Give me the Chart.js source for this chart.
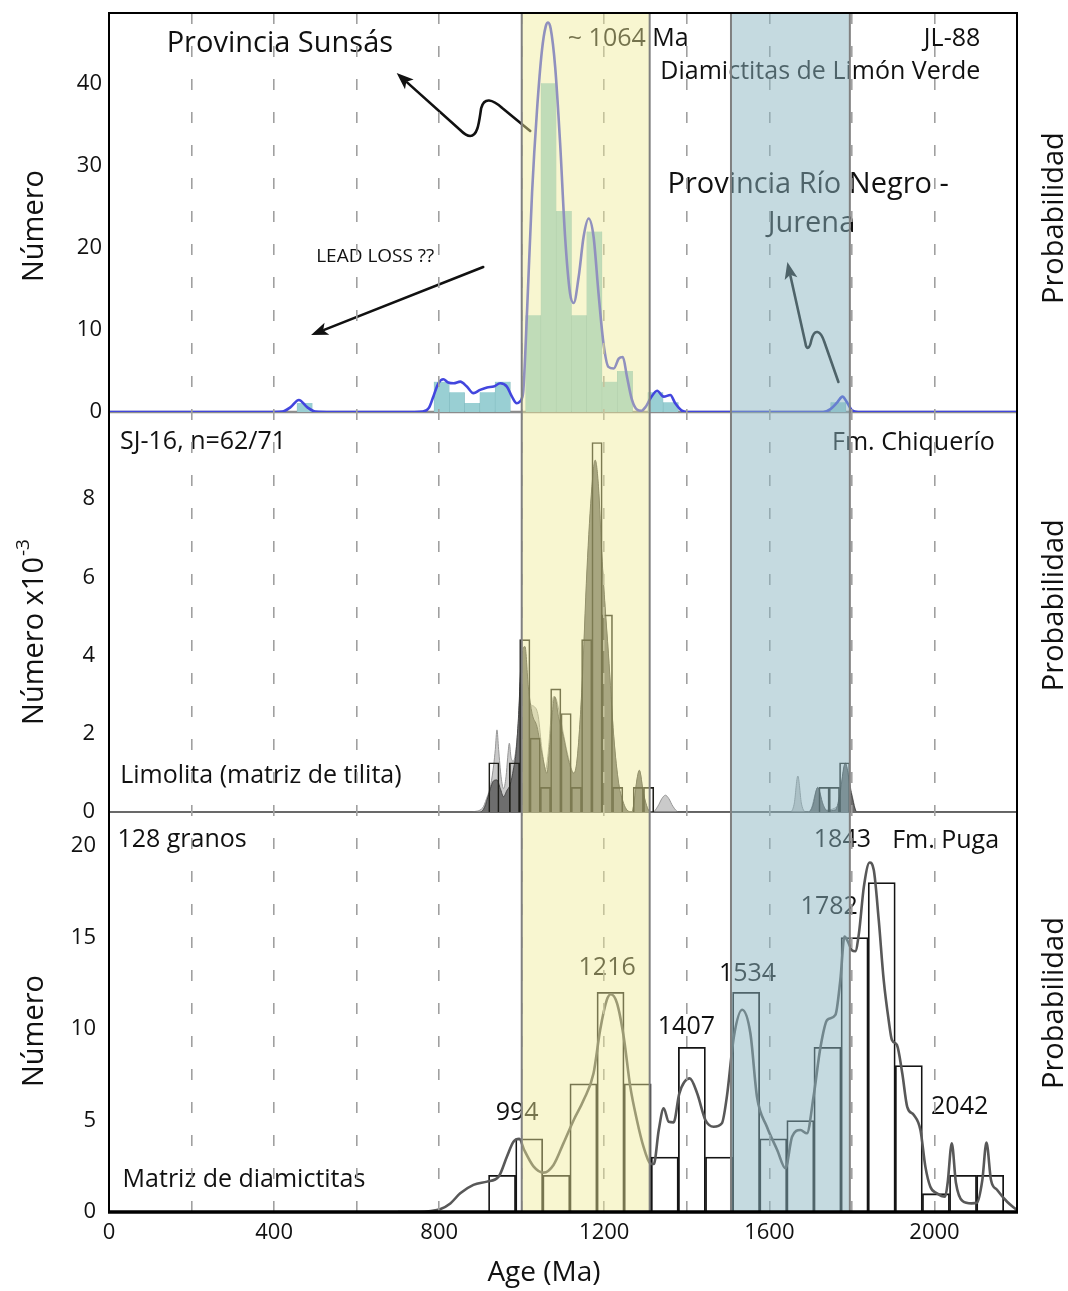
<!DOCTYPE html>
<html>
<head>
<meta charset="utf-8">
<script src="https://cdn.jsdelivr.net/npm/chart.js@4/dist/chart.umd.min.js"></script>
<style>
  html, body { margin: 0; padding: 0; background: #ffffff; }
  canvas { display: block; }
</style>
</head>
<body>
<canvas id="c" width="1068" height="1291"></canvas>
<script>
// ---------------- axis ticks ----------------
const ageGridTicks = [0, 200, 400, 600, 800, 1000, 1200, 1400, 1600, 1800, 2000];
const ageTickLabels = [0, 400, 800, 1200, 1600, 2000];
const topTicks = [0, 10, 20, 30, 40];
const midTicks = [0, 2, 4, 6, 8];
const botTicks = [0, 5, 10, 15, 20];

// shaded age ranges (Ma)
const bandStart = [1000, 1507];
const bandEnd   = [1310, 1795];

// ---------------- JL-88, Diamictitas de Limón Verde ----------------
const jlBinAge   = [474, 806, 843, 880, 917, 954, 991, 1028, 1065, 1102, 1139, 1176, 1213, 1250, 1287, 1324, 1361, 1767];
const jlBinCount = [1.1, 3.7, 2.4, 1.1, 2.4, 3.7, 0, 11.8, 40.1, 24.5, 11.8, 22.0, 3.7, 5.0, 0, 2.4, 1.2, 1.2];

const jlPdfAge = [0, 380, 420, 440, 460, 480, 500, 540, 740, 760, 775, 786, 798, 810, 822, 835, 851, 867, 883, 899,
  916, 932, 948, 964, 976, 988, 996, 1000, 1004, 1013, 1025, 1037, 1049, 1058, 1064, 1070, 1081, 1093, 1105, 1117,
  1126, 1138, 1150, 1162, 1174, 1186, 1198, 1210, 1223, 1235, 1245, 1255, 1267, 1279, 1290, 1300, 1312, 1328, 1344,
  1360, 1372, 1388, 1400, 1420, 1730, 1748, 1765, 1777, 1788, 1800, 1815, 2200];
const jlPdfVal = [0, 0, 0.05, 0.6, 1.46, 0.6, 0.05, 0, 0, 0.05, 0.5, 1.9, 3.5, 4.0, 3.6, 3.5, 3.7, 3.1, 2.3, 2.7,
  3.0, 3.1, 3.5, 3.1, 1.9, 1.06, 1.3, 1.6, 2.7, 12.4, 26.7, 36.8, 44.1, 47.0, 47.5, 46.8, 42.1, 32.8, 21.4, 14.5,
  13.3, 16.5, 21.4, 23.6, 21.4, 14.5, 8.4, 5.5, 5.3, 6.5, 6.7, 4.3, 1.5, 0.3, 0.15, 0.6, 1.67, 2.6, 1.87,
  2.07, 1.06, 0.16, 0, 0, 0, 0.35, 1.2, 1.87, 1.2, 0.2, 0, 0];

// ---------------- SJ-16, Fm. Chiquerío ----------------
const sjBinAge   = [932.5, 957.5, 982.5, 1007.5, 1032.5, 1057.5, 1082.5, 1107.5, 1132.5, 1157.5, 1182.5, 1207.5,
  1232.5, 1257.5, 1282.5, 1307.5, 1732.5, 1757.5, 1782.5];
const sjBinCount = [1.26, 0, 1.26, 4.41, 1.89, 0.63, 3.15, 2.52, 0.63, 4.41, 9.45, 5.04,
  0.63, 0, 0.63, 0.63, 0.63, 0.63, 1.26];

const sjDarkAge = [880, 899, 910, 920, 932, 940, 948, 956, 964, 972, 980, 986, 992, 1000, 1008, 1016, 1025, 1037,
  1049, 1061, 1069, 1080, 1089, 1101, 1113, 1126, 1134, 1146, 1158, 1170, 1178, 1186, 1194, 1202, 1210, 1223, 1235,
  1247, 1255, 1267, 1273, 1279, 1285, 1295, 1307, 1315, 1695, 1705, 1717, 1730, 1740, 1760, 1770, 1784, 1798, 1812, 2200];
const sjDarkVal = [0, 0, 0.12, 0.45, 0.8, 0.82, 0.6, 0.39, 0.55, 0.7, 1.1, 1.5, 2.4, 4.06, 4.23, 3.2, 2.52, 2.18,
  1.5, 0.99, 1.84, 2.95, 2.44, 1.93, 1.33, 0.99, 1.33, 3.2, 6.19, 8.32, 9.0, 8.32, 6.6, 5.25, 4.06, 1.93, 0.73,
  0.22, 0.05, 0, 0.3, 0.82, 1.07, 0.48, 0.05, 0, 0, 0.15, 0.63, 0.2, 0.03, 0.05, 0.4, 1.25, 0.5, 0, 0];

const sjLightAge = [880, 905, 915, 925, 932, 936, 940, 944, 950, 956, 962, 966, 970, 974, 980, 986, 992, 1000, 1008,
  1016, 1022, 1030, 1040, 1049, 1058, 1064, 1070, 1077, 1083, 1090, 1101, 1113, 1126, 1134, 1146, 1158, 1170, 1178,
  1186, 1194, 1202, 1210, 1223, 1235, 1247, 1255, 1267, 1273, 1279, 1285, 1295, 1307, 1318, 1330, 1340, 1348, 1356,
  1366, 1380, 1650, 1660, 1669, 1678, 1690, 1700, 1717, 1732, 1766, 1784, 1800, 1812, 2200];
const sjLightVal = [0, 0.1, 0.35, 0.7, 1.2, 1.6, 2.1, 1.6, 0.9, 0.6, 0.9, 1.4, 1.76, 1.4, 1.3, 1.6, 2.3, 3.9, 4.0,
  3.0, 2.75, 2.7, 2.45, 1.6, 1.1, 1.5, 2.3, 2.95, 2.9, 2.6, 2.0, 1.4, 1.0, 1.3, 3.1, 6.0, 8.2, 8.9,
  8.2, 6.5, 5.2, 4.0, 1.9, 0.7, 0.2, 0.05, 0, 0.3, 0.8, 1.05, 0.45, 0.05, 0, 0.15, 0.35, 0.43, 0.35,
  0.15, 0, 0, 0.2, 0.92, 0.2, 0, 0.05, 0.6, 0.05, 0.15, 1.2, 0.45, 0, 0];

// ---------------- Fm. Puga, matriz de diamictitas ----------------
const pugaBinAge   = [952.4, 1018.1, 1083.8, 1149.5, 1215.2, 1280.9, 1346.6, 1412.3, 1478.0, 1543.7, 1609.4,
  1675.1, 1740.8, 1806.5, 1872.2, 1937.9, 2003.6, 2069.3, 2135.0];
const pugaBinCount = [2, 4, 2, 7, 12, 7, 3, 9, 3, 12, 4, 5, 9, 15, 18, 8, 1, 2, 2];

const pugaPdfAge = [700, 750, 780, 802, 827, 851, 883, 916, 944, 964, 980, 994, 1006, 1029, 1053, 1077, 1101, 1126,
  1150, 1174, 1190, 1206, 1216, 1231, 1247, 1263, 1279, 1295, 1311, 1320, 1332, 1344, 1356, 1368, 1382, 1407, 1425,
  1445, 1465, 1485, 1497, 1514, 1534, 1554, 1570, 1594, 1619, 1639, 1655, 1675, 1691, 1707, 1724, 1740, 1760, 1772,
  1782, 1792, 1800, 1808, 1817, 1829, 1843, 1853, 1865, 1877, 1889, 1897, 1909, 1922, 1934, 1950, 1966, 1978, 1990,
  2006, 2026, 2032, 2042, 2052, 2068, 2090, 2103, 2116, 2126, 2137, 2152, 2176, 2200];
const pugaPdfVal = [0, 0, 0.05, 0.15, 0.47, 1.02, 1.48, 1.66, 1.93, 3.02, 3.84, 4.0, 3.39, 2.48, 2.15, 2.57, 3.75, 5.03,
  6.12, 7.58, 9.95, 11.58, 11.9, 11.4, 9.58, 6.85, 5.03, 3.57, 2.66, 2.62, 4.48, 5.67, 4.93, 4.9, 6.49, 7.3, 6.49,
  5.03, 4.66, 4.85, 6.3, 9.58, 11.05, 9.77, 6.3, 4.66, 3.39, 2.39, 4.11, 4.48, 4.3, 6.3, 9.03, 10.49, 10.77, 12.68,
  15.05, 14.7, 14.3, 14.25, 15.23, 17.78, 19.1, 18.69, 15.96, 12.68, 10.49, 9.4, 9.13, 7.58, 5.75, 5.3, 4.48, 2.48, 1.38,
  1.02, 0.84, 1.6, 3.75, 1.6, 0.6, 0.47, 0.5, 1.75, 3.79, 1.75, 1.2, 0.56, 0.1];

// ---------------- drawing ----------------
const FONT = "'Open Sans', 'DejaVu Sans', sans-serif";
const INK = '#111111';
Chart.defaults.font.family = FONT;

const pts = (xs, ys) => xs.map((x, i) => ({ x: x, y: ys[i] }));

const notes = [
  { panel: 'yTop', text: 'Provincia Sunsás', age: 414, val: 44.9, size: 29 },
  { panel: 'yTop', text: '~ 1064 Ma', age: 1258, val: 45.5, size: 25 },
  { panel: 'yTop', text: 'JL-88', age: 2111, val: 45.5, size: 25, align: 'right' },
  { panel: 'yTop', text: 'Diamictitas de Limón Verde', age: 2111, val: 41.5, size: 25, align: 'right' },
  { panel: 'yTop', text: 'Provincia Río Negro -', age: 1694, val: 27.7, size: 29 },
  { panel: 'yTop', text: 'Jurena', age: 1702, val: 22.9, size: 29 },
  { panel: 'yTop', text: 'LEAD LOSS ??', age: 645, val: 18.9, size: 19 },
  { panel: 'yMid', text: 'SJ-16, n=62/71', age: 228, val: 9.46, size: 25 },
  { panel: 'yMid', text: 'Fm. Chiquerío', age: 1949, val: 9.44, size: 25 },
  { panel: 'yMid', text: 'Limolita (matriz de tilita)', age: 368, val: 0.92, size: 25 },
  { panel: 'yBot', text: '128 granos', age: 177, val: 20.33, size: 25 },
  { panel: 'yBot', text: '1843', age: 1777, val: 20.33, size: 25 },
  { panel: 'yBot', text: 'Fm. Puga', age: 2027, val: 20.27, size: 25 },
  { panel: 'yBot', text: '1782', age: 1745, val: 16.67, size: 25 },
  { panel: 'yBot', text: '1534', age: 1547, val: 13.0, size: 25 },
  { panel: 'yBot', text: '1216', age: 1207, val: 13.33, size: 25 },
  { panel: 'yBot', text: '1407', age: 1399, val: 10.1, size: 25 },
  { panel: 'yBot', text: '994', age: 989, val: 5.41, size: 25 },
  { panel: 'yBot', text: '2042', age: 2061, val: 5.74, size: 25 },
  { panel: 'yBot', text: 'Matriz de diamictitas', age: 327, val: 1.75, size: 25 }
];

// annotation arrows in (age, value) of the upper panel; 2 numbers = line, 6 numbers = bezier
const arrows = [
  { panel: 'yTop', segs: [[1020.6, 34.27], [952.7, 37.07], [928.5, 38.17, 909.1, 38.41, 901.8, 37.07],
      [897, 35.61, 894.5, 33.66, 875.2, 33.66], [865.5, 33.66, 858.2, 34.02, 850.9, 34.39]], tip: [697, 41.34] },
  { panel: 'yTop', segs: [[906.7, 17.68]], tip: [489.7, 9.39] },
  { panel: 'yTop', segs: [[1767.3, 3.66], [1733.3, 8.54], [1723.6, 10.0, 1709.1, 10.24, 1701.8, 8.78],
      [1697, 7.56, 1689.7, 7.56, 1687.3, 8.41]], tip: [1643.6, 18.29] }
];

// side titles: fraction = position along each panel from its top
const sideTitles = [
  { panel: 'yTop', left: 'Número', lf: 0.534, right: 'Probabilidad', rf: 0.514 },
  { panel: 'yMid', left: 'Número x10', sup: '-3', lf: 0.55, right: 'Probabilidad', rf: 0.483 },
  { panel: 'yBot', left: 'Número', lf: 0.5475, right: 'Probabilidad', rf: 0.4775 }
];

function vText(ctx, cx, cy, main, sup) {
  ctx.save();
  ctx.translate(cx, cy);
  ctx.rotate(-Math.PI / 2);
  ctx.fillStyle = INK;
  ctx.textBaseline = 'middle';
  ctx.textAlign = 'left';
  ctx.font = '29px ' + FONT;
  const w1 = ctx.measureText(main).width;
  let w2 = 0;
  if (sup) { ctx.font = '19px ' + FONT; w2 = ctx.measureText(sup).width + 1; }
  const start = -(w1 + w2) / 2;
  ctx.font = '29px ' + FONT;
  ctx.fillText(main, start, 0);
  if (sup) { ctx.font = '19px ' + FONT; ctx.fillText(sup, start + w1 + 1, -11); }
  ctx.restore();
}

const panelPlugin = {
  id: 'panelDecor',
  beforeDatasetsDraw(chart) {
    const { ctx, chartArea: a, scales } = chart;
    ctx.save();
    ctx.lineWidth = 2.5;
    ctx.strokeStyle = 'rgb(140,140,140)';
    ctx.beginPath();
    ctx.moveTo(a.left, scales.yTop.bottom); ctx.lineTo(a.right, scales.yTop.bottom);
    ctx.stroke();
    ctx.lineWidth = 2;
    ctx.strokeStyle = 'rgb(105,105,105)';
    ctx.beginPath();
    ctx.moveTo(a.left, scales.yMid.bottom); ctx.lineTo(a.right, scales.yMid.bottom);
    ctx.stroke();
    ctx.restore();
  },
  afterDatasetsDraw(chart) {
    const { ctx, scales } = chart;
    const xs = scales.x;
    ctx.save();
    ctx.fillStyle = INK;
    ctx.textBaseline = 'middle';
    for (const n of notes) {
      ctx.font = n.size + 'px ' + FONT;
      ctx.textAlign = n.align || 'center';
      ctx.fillText(n.text, xs.getPixelForValue(n.age), scales[n.panel].getPixelForValue(n.val));
    }
    // arrows
    ctx.strokeStyle = INK;
    ctx.lineWidth = 2.6;
    ctx.lineJoin = 'round';
    ctx.lineCap = 'round';
    for (const ar of arrows) {
      const ys = scales[ar.panel];
      const P = (a, v) => [xs.getPixelForValue(a), ys.getPixelForValue(v)];
      ctx.beginPath();
      let last = null;
      ar.segs.forEach((s, i) => {
        if (i === 0) { last = P(s[0], s[1]); ctx.moveTo(last[0], last[1]); }
        else if (s.length === 2) { last = P(s[0], s[1]); ctx.lineTo(last[0], last[1]); }
        else {
          const c1 = P(s[0], s[1]), c2 = P(s[2], s[3]); last = P(s[4], s[5]);
          ctx.bezierCurveTo(c1[0], c1[1], c2[0], c2[1], last[0], last[1]);
        }
      });
      const t = P(ar.tip[0], ar.tip[1]);
      const dx = t[0] - last[0], dy = t[1] - last[1];
      const len = Math.hypot(dx, dy);
      const ux = dx / len, uy = dy / len;
      const L = 17, W = 6.5;
      const bx = t[0] - ux * L, by = t[1] - uy * L;
      ctx.lineTo(bx + ux * 3, by + uy * 3);
      ctx.stroke();
      ctx.beginPath();
      ctx.moveTo(t[0], t[1]);
      ctx.lineTo(bx - uy * W, by + ux * W);
      ctx.lineTo(bx + ux * 4, by + uy * 4);
      ctx.lineTo(bx + uy * W, by - ux * W);
      ctx.closePath();
      ctx.fillStyle = INK;
      ctx.fill();
    }
    ctx.restore();
  },
  afterDraw(chart) {
    const { ctx, chartArea: a, scales } = chart;
    const xs = scales.x;
    ctx.save();
    ctx.beginPath();
    ctx.rect(a.left, a.top, a.right - a.left, a.bottom - a.top);
    ctx.clip();
    const bandFill = ['rgba(240,236,150,0.45)', 'rgba(140,182,194,0.5)'];
    bandStart.forEach((s, i) => {
      const x1 = xs.getPixelForValue(s), x2 = xs.getPixelForValue(bandEnd[i]);
      ctx.fillStyle = bandFill[i];
      ctx.fillRect(x1, a.top, x2 - x1, a.bottom - a.top);
    });
    ctx.strokeStyle = 'rgb(128,128,128)';
    ctx.lineWidth = 2;
    bandStart.forEach((s, i) => {
      [s, bandEnd[i]].forEach(v => {
        const px = xs.getPixelForValue(v);
        ctx.beginPath(); ctx.moveTo(px, a.top); ctx.lineTo(px, a.bottom); ctx.stroke();
      });
    });
    ctx.restore();

    // frame
    ctx.save();
    ctx.strokeStyle = '#000';
    ctx.lineWidth = 2;
    ctx.strokeRect(a.left, a.top, a.right - a.left, a.bottom - a.top);
    ctx.lineWidth = 3.5;
    ctx.beginPath(); ctx.moveTo(a.left - 1, a.bottom); ctx.lineTo(a.right + 1, a.bottom); ctx.stroke();
    ctx.restore();

    // axis titles
    for (const t of sideTitles) {
      const s = scales[t.panel];
      vText(ctx, 35, s.top + (s.bottom - s.top) * t.lf, t.left, t.sup);
      vText(ctx, 1055, s.top + (s.bottom - s.top) * t.rf, t.right);
    }
    ctx.save();
    ctx.fillStyle = INK;
    ctx.font = '28px ' + FONT;
    ctx.textAlign = 'center';
    ctx.textBaseline = 'middle';
    ctx.fillText('Age (Ma)', 544, 1273);
    ctx.restore();
  }
};

const setAgeTicks = s => { s.ticks = ageGridTicks.map(v => ({ value: v })); };
const tickFont = { family: FONT, size: 22 };

const datasets = [
  // upper panel
  { type: 'bar', label: 'JL-88 histograma', data: pts(jlBinAge, jlBinCount), xAxisID: 'xTop', yAxisID: 'yTop',
    backgroundColor: 'rgb(153,207,211)', borderColor: 'rgba(118,178,184,0.9)',
    borderWidth: { left: 0.6, right: 0.6, top: 0, bottom: 0 },
    barPercentage: 1, categoryPercentage: 1, grouped: false, order: 6 },
  { type: 'line', label: 'JL-88 probabilidad', data: pts(jlPdfAge, jlPdfVal), xAxisID: 'xTop', yAxisID: 'yTop',
    borderColor: 'rgb(66,70,222)', borderWidth: 2.6, pointRadius: 0, cubicInterpolationMode: 'monotone',
    fill: false, order: 1 },
  // middle panel
  { type: 'line', label: 'SJ-16 curva clara', data: pts(sjLightAge, sjLightVal), xAxisID: 'xMid', yAxisID: 'yMid',
    borderColor: 'rgb(150,150,150)', borderWidth: 1, backgroundColor: 'rgb(202,202,202)', pointRadius: 0,
    cubicInterpolationMode: 'monotone', fill: 'origin', order: 5 },
  { type: 'line', label: 'SJ-16 curva oscura', data: pts(sjDarkAge, sjDarkVal), xAxisID: 'xMid', yAxisID: 'yMid',
    borderColor: 'rgb(72,72,72)', borderWidth: 1, backgroundColor: 'rgb(110,110,110)', pointRadius: 0,
    cubicInterpolationMode: 'monotone', fill: 'origin', order: 4 },
  { type: 'bar', label: 'SJ-16 histograma', data: pts(sjBinAge, sjBinCount), xAxisID: 'xMid', yAxisID: 'yMid',
    backgroundColor: 'rgba(0,0,0,0)', borderColor: 'rgb(30,30,25)', borderWidth: 1,
    barPercentage: 1, categoryPercentage: 1, grouped: false, order: 3 },
  // lower panel
  { type: 'bar', label: 'Puga histograma', data: pts(pugaBinAge, pugaBinCount), xAxisID: 'x', yAxisID: 'yBot',
    backgroundColor: 'rgba(0,0,0,0)', borderColor: 'rgb(20,20,20)', borderWidth: 1.1,
    barPercentage: 1, categoryPercentage: 1, grouped: false, order: 2 },
  { type: 'line', label: 'Puga probabilidad', data: pts(pugaPdfAge, pugaPdfVal), xAxisID: 'x', yAxisID: 'yBot',
    borderColor: 'rgb(88,88,88)', borderWidth: 2.6, pointRadius: 0, cubicInterpolationMode: 'monotone',
    fill: false, order: 1 }
];

// stacked panel axes; their reported label overflow is dropped so the plot fills the frame
const yAxis = (weight, stackWeight, max, ticks, pad) => ({
  type: 'linear', position: 'left', stack: 'panels', stackWeight: stackWeight, weight: weight,
  min: 0, max: max, offset: false,
  afterBuildTicks: s => { s.ticks = ticks.map(v => ({ value: v })); },
  ticks: { font: tickFont, color: INK, padding: pad },
  grid: { display: false, drawTicks: false, offset: false },
  border: { display: false },
  afterFit: s => { s.width = 109; s.paddingTop = 0; s.paddingBottom = 0; }
});

const hiddenAge = {
  type: 'linear', position: 'bottom', min: 0, max: 2200, display: false, offset: false,
  grid: { offset: false }, afterBuildTicks: setAgeTicks
};

new Chart(document.getElementById('c'), {
  type: 'line',
  data: { datasets: datasets },
  options: {
    responsive: false,
    animation: false,
    devicePixelRatio: 1,
    layout: { padding: { top: 13, right: 51, bottom: 0, left: 0 } },
    plugins: { legend: { display: false }, tooltip: { enabled: false } },
    scales: {
      x: {
        type: 'linear', position: 'bottom', min: 0, max: 2200, offset: false,
        afterBuildTicks: setAgeTicks,
        ticks: {
          font: tickFont, color: INK, padding: 8, maxRotation: 0, autoSkip: false,
          callback: v => (ageTickLabels.includes(v) ? String(v) : '')
        },
        grid: { color: 'rgb(160,160,160)', lineWidth: 1.6, drawTicks: false, offset: false, z: 1 },
        border: { display: false, dash: [11, 22] },
        afterFit: s => { s.height = 79; s.paddingLeft = 0; s.paddingRight = 0; }
      },
      xTop: Object.assign({}, hiddenAge),
      xMid: Object.assign({}, hiddenAge),
      yBot: yAxis(1, 400, 21.86, botTicks, 13),
      yMid: yAxis(2, 400, 10.23, midTicks, 14),
      yTop: yAxis(3, 399, 48.66, topTicks, 7)
    }
  },
  plugins: [panelPlugin]
});
</script>
</body>
</html>
